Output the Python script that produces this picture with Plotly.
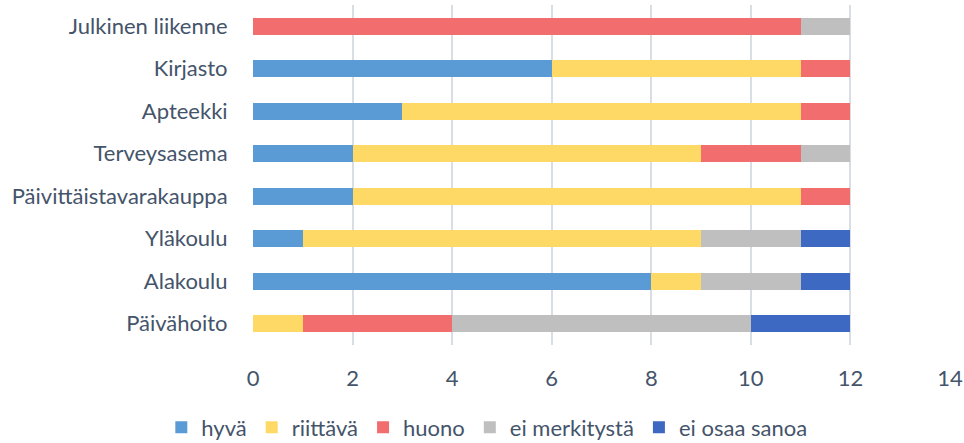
import plotly.graph_objects as go

# Palvelut (bottom to top as drawn)
categories = ['Päivähoito', 'Alakoulu', 'Yläkoulu', 'Päivittäistavarakauppa',
              'Terveysasema', 'Apteekki', 'Kirjasto', 'Julkinen liikenne']

hyva = [0, 8, 1, 2, 2, 3, 6, 0]
riittava = [1, 1, 8, 9, 7, 8, 5, 0]
huono = [3, 0, 0, 1, 2, 1, 1, 11]
ei_merkitysta = [6, 2, 2, 0, 1, 0, 0, 1]
ei_osaa_sanoa = [2, 1, 1, 0, 0, 0, 0, 0]

series = [
    ('hyvä', hyva, '#5B9BD5'),
    ('riittävä', riittava, '#FFD966'),
    ('huono', huono, '#F26D6D'),
    ('ei merkitystä', ei_merkitysta, '#BFBFBF'),
    ('ei osaa sanoa', ei_osaa_sanoa, '#3D69C3'),
]

TEXT_COLOR = '#44546A'
FONT = 'Lato, Open Sans, sans-serif'

fig = go.Figure()
for name, vals, color in series:
    fig.add_trace(go.Bar(
        y=categories,
        x=vals,
        name=name,
        orientation='h',
        marker=dict(color=color, line=dict(width=0)),
    ))

fig.update_layout(
    barmode='stack',
    bargap=0.6,
    width=964,
    height=443,
    margin=dict(l=253, r=14, t=5, b=98),
    paper_bgcolor='white',
    plot_bgcolor='white',
    font=dict(family=FONT, size=22, color=TEXT_COLOR),
    legend=dict(
        orientation='h',
        xref='container',
        yref='container',
        x=0.505,
        xanchor='center',
        y=0.035,
        yanchor='middle',
        font=dict(size=22),
        traceorder='normal',
        itemwidth=30,
    ),
)
fig.update_xaxes(
    range=[0, 14],
    dtick=2,
    showgrid=True,
    gridcolor='#D9DEE5',
    gridwidth=1.5,
    zeroline=False,
    showline=False,
    ticks='outside',
    ticklen=14,
    tickcolor='rgba(0,0,0,0)',
    tickfont=dict(size=22),
    automargin=False,
)
fig.update_yaxes(
    showgrid=False,
    showline=False,
    ticks='outside',
    ticklen=20,
    tickcolor='rgba(0,0,0,0)',
    automargin=False,
)

# drop the browser's default body margin so the figure sits at the page corner
fig.write_html('out.html', config={'displayModeBar': False},
               post_script="document.body.style.margin='0';")
